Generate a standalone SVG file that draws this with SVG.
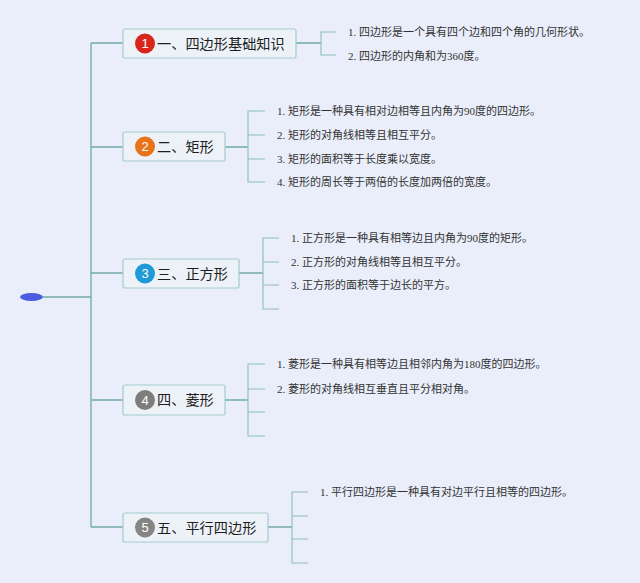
<svg xmlns="http://www.w3.org/2000/svg" width="640" height="583" viewBox="0 0 640 583">
<style>
.bg{fill:#e9eefa}
.ln{fill:none;stroke:#72aaa8;stroke-width:1.3}
.sub{fill:none;stroke:#8fbcbc;stroke-width:1.1}
.box{fill:#edf2f8;stroke:#a6cccc;stroke-width:1.2}
.t{font-family:"Noto Sans CJK SC","Noto Sans",sans-serif;font-size:14.2px;fill:#1e1e1e}
.n{font-family:"Liberation Sans",sans-serif;font-size:13px;fill:#ffffff;text-anchor:middle}
.s{font-family:"Liberation Serif","Noto Sans CJK SC",serif;font-size:11px;fill:#333333}
</style>
<rect class="bg" x="0" y="0" width="640" height="583"/>
<g id="connectors">
<path class="ln" d="M43 297 H91 M91 43 V527 M91 43 H123 M91 147 H123 M91 273 H123 M91 400 H123 M91 527 H123"/>
<path class="ln" d="M296 43 H321 M225 147 H248 M239 273 H263 M225 400 H248 M268 527 H292"/>
<path class="sub" d="M336 32 H321 V55 H336"/>
<path class="sub" d="M265 111 H248 V182 H265 M248 135 H265 M248 159 H265"/>
<path class="sub" d="M279 238 H263 V309 H279 M263 262 H279 M263 285 H279"/>
<path class="sub" d="M265 364 H248 V436 H265 M248 389 H265 M248 412 H265"/>
<path class="sub" d="M308 492 H292 V563 H308 M292 516 H308 M292 539 H308"/>
</g>
<g id="root">
<ellipse cx="31.5" cy="297" rx="11.5" ry="4" fill="#4a5de0"/>
</g>
<g id="node1">
<rect class="box" x="123" y="29" width="173" height="29" rx="2"/>
<circle cx="145" cy="43.5" r="10" fill="#d8261c"/>
<text class="n" x="145" y="48">1</text>
<text class="t" x="157" y="48.5">一、四边形基础知识</text>
</g>
<g id="node2">
<rect class="box" x="123" y="132" width="102" height="29" rx="2"/>
<circle cx="145" cy="146.5" r="10" fill="#e8731a"/>
<text class="n" x="145" y="151">2</text>
<text class="t" x="157" y="151.5">二、矩形</text>
</g>
<g id="node3">
<rect class="box" x="123" y="259" width="116" height="29" rx="2"/>
<circle cx="145" cy="273.5" r="10" fill="#1e9ad8"/>
<text class="n" x="145" y="278">3</text>
<text class="t" x="157" y="278.5">三、正方形</text>
</g>
<g id="node4">
<rect class="box" x="123" y="385" width="102" height="30" rx="2"/>
<circle cx="145" cy="400" r="10" fill="#7d7d7d"/>
<text class="n" x="145" y="404.5">4</text>
<text class="t" x="157" y="405">四、菱形</text>
</g>
<g id="node5">
<rect class="box" x="123" y="513" width="145" height="29" rx="2"/>
<circle cx="145" cy="527.5" r="10" fill="#858585"/>
<text class="n" x="145" y="532">5</text>
<text class="t" x="157" y="532.5">五、平行四边形</text>
</g>
<g id="leaves">
<text class="s" x="348" y="36">1. 四边形是一个具有四个边和四个角的几何形状。</text>
<text class="s" x="348" y="60">2. 四边形的内角和为360度。</text>
<text class="s" x="277" y="115">1. 矩形是一种具有相对边相等且内角为90度的四边形。</text>
<text class="s" x="277" y="139">2. 矩形的对角线相等且相互平分。</text>
<text class="s" x="277" y="163">3. 矩形的面积等于长度乘以宽度。</text>
<text class="s" x="277" y="186">4. 矩形的周长等于两倍的长度加两倍的宽度。</text>
<text class="s" x="291" y="242">1. 正方形是一种具有相等边且内角为90度的矩形。</text>
<text class="s" x="291" y="266">2. 正方形的对角线相等且相互平分。</text>
<text class="s" x="291" y="289">3. 正方形的面积等于边长的平方。</text>
<text class="s" x="277" y="368">1. 菱形是一种具有相等边且相邻内角为180度的四边形。</text>
<text class="s" x="277" y="393">2. 菱形的对角线相互垂直且平分相对角。</text>
<text class="s" x="320" y="496">1. 平行四边形是一种具有对边平行且相等的四边形。</text>
</g>
</svg>
